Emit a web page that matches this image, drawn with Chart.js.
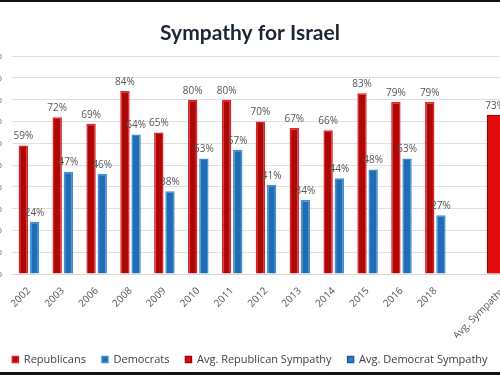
<!DOCTYPE html>
<html>
<head>
<meta charset="utf-8">
<script src="https://cdn.jsdelivr.net/npm/chart.js@4/dist/chart.umd.min.js"></script>
<style>
  html, body { margin: 0; padding: 0; background: #fff; overflow: hidden; }
  body { width: 500px; height: 375px; position: relative; }
  #chart { position: absolute; left: -20px; top: 0; }
  .bar-top { position: absolute; left: 0; top: 0; width: 500px; height: 2px; background: #111; }
  .bar-bottom { position: absolute; left: 0; bottom: 0; width: 500px; height: 3px; background: #111; }
</style>
</head>
<body>
<canvas id="chart" width="540" height="375"></canvas>
<div class="bar-top"></div>
<div class="bar-bottom"></div>
<script>
const categories = ['2002', '2003', '2006', '2008', '2009', '2010', '2011', '2012', '2013', '2014', '2015', '2016', '2018', '', 'Avg. Sympathy'];
const republicans = [59, 72, 69, 84, 65, 80, 80, 70, 67, 66, 83, 79, 79, null, null];
const democrats = [24, 47, 46, 64, 38, 53, 57, 41, 34, 44, 48, 53, 27, null, null];
const avgRepublican = [null, null, null, null, null, null, null, null, null, null, null, null, null, null, 73];
const avgDemocrat = [null, null, null, null, null, null, null, null, null, null, null, null, null, null, 44];
const yTicks = [0, 10, 20, 30, 40, 50, 60, 70, 80, 90, 100];

// draw "59%" style labels above each bar
const valueLabels = {
  id: 'valueLabels',
  afterDatasetsDraw(chart) {
    const ctx = chart.ctx;
    ctx.save();
    ctx.font = '10px "Open Sans", sans-serif';
    ctx.fillStyle = '#555';
    ctx.textAlign = 'center';
    ctx.textBaseline = 'bottom';
    chart.data.datasets.forEach((ds, i) => {
      const meta = chart.getDatasetMeta(i);
      meta.data.forEach((bar, j) => {
        const v = ds.data[j];
        if (v === null || v === undefined) return;
        ctx.fillText(v + '%', bar.x, bar.y - 4);
      });
    });
    ctx.restore();
  }
};

new Chart(document.getElementById('chart'), {
  type: 'bar',
  data: {
    labels: categories,
    datasets: [
      {
        label: 'Republicans',
        data: republicans,
        backgroundColor: '#ad0808',
        borderColor: '#e52222',
        borderWidth: 1.5
      },
      {
        label: 'Democrats',
        data: democrats,
        backgroundColor: '#1f6db5',
        borderColor: '#3f8fd6',
        borderWidth: 1.5
      },
      {
        label: 'Avg. Republican Sympathy',
        data: avgRepublican,
        backgroundColor: '#e30b0b',
        borderColor: '#9a0606',
        borderWidth: 1.5,
        barThickness: 16
      },
      {
        label: 'Avg. Democrat Sympathy',
        data: avgDemocrat,
        backgroundColor: '#2f7fc8',
        borderColor: '#1a5e9c',
        borderWidth: 1.5,
        barThickness: 16
      }
    ]
  },
  options: {
    responsive: false,
    animation: false,
    skipNull: true,
    categoryPercentage: 0.66,
    barPercentage: 0.84,
    layout: { padding: 0 },
    plugins: {
      title: {
        display: true,
        text: 'Sympathy for Israel',
        color: '#1d2633',
        font: { family: 'Lato', size: 21, weight: 'bold' },
        padding: { top: 21, bottom: 10 }
      },
      legend: {
        position: 'bottom',
        labels: {
          color: '#404040',
          font: { family: '"Open Sans", sans-serif', size: 11 },
          boxWidth: 6,
          boxHeight: 6,
          padding: 16
        }
      },
      tooltip: { enabled: false }
    },
    scales: {
      x: {
        afterFit(s) { s.height = 64; },
        grid: { display: false },
        border: { color: '#d9d9d9' },
        ticks: {
          color: '#555',
          font: { family: '"Open Sans", sans-serif', size: 10 },
          maxRotation: 45,
          minRotation: 45,
          autoSkip: false
        }
      },
      y: {
        min: 0,
        max: 100,
        afterFit(s) { s.width = 32; },
        afterBuildTicks(s) { s.ticks = yTicks.map(v => ({ value: v })); },
        grid: { color: '#e0e0e0', drawTicks: false },
        border: { display: false },
        ticks: {
          color: '#555',
          padding: 10,
          font: { family: '"Open Sans", sans-serif', size: 10 },
          callback: v => v + '%'
        }
      }
    }
  },
  plugins: [valueLabels]
});
</script>
</body>
</html>
